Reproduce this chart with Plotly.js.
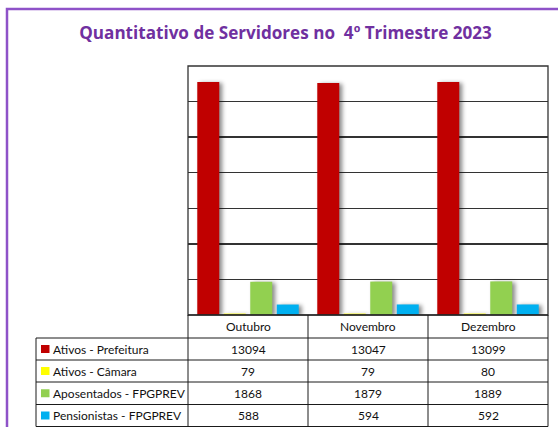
<!DOCTYPE html>
<html>
<head>
<meta charset="utf-8">
<script src="https://cdn.plot.ly/plotly-3.0.1.min.js"></script>
<style>
html,body{margin:0;padding:0;background:#fff;}
#chart{width:558px;height:427px;}
.barlayer .point path{filter:drop-shadow(3px 1px 2px rgba(0,0,0,0.45));}
</style>
</head>
<body>
<div id="chart"></div>
<script>
var months = ["Outubro", "Novembro", "Dezembro"];
var seriesNames = ["Ativos - Prefeitura", "Ativos - Câmara", "Aposentados - FPGPREV", "Pensionistas - FPGPREV"];
var ativosPrefeitura = [13094, 13047, 13099];
var ativosCamara = [79, 79, 80];
var aposentados = [1868, 1879, 1889];
var pensionistas = [588, 594, 592];
var seriesColors = ["#C00000", "#FFFF00", "#92D050", "#00B0F0"];
var titleText = "Quantitativo de Servidores no  4º Trimestre 2023";

var seriesValues = [ativosPrefeitura, ativosCamara, aposentados, pensionistas];

var W = 558, H = 427;
var L = 188, R = 548, T = 66, B = 315;
function px(x){ return (x - L) / (R - L); }
function py(y){ return (B - y) / (B - T); }

var font = "Lato, 'Open Sans', sans-serif";
var titleFont = "'Open Sans', Lato, sans-serif";
var traces = seriesValues.map(function(v, i){
  return {type:"bar", x:months, y:v, name:seriesNames[i],
    marker:{color:seriesColors[i], line:{width:0}}, hoverinfo:"skip"};
});

var shapes = [];
var annotations = [];
var lineCol = "#1a1a1a";
function hline(x0,x1,y,c,w){ shapes.push({type:"line",xref:"paper",yref:"paper",x0:px(x0),x1:px(x1),y0:py(y),y1:py(y),line:{color:c||lineCol,width:w||1}}); }
function vline(x,y0,y1,c,w){ shapes.push({type:"line",xref:"paper",yref:"paper",x0:px(x),x1:px(x),y0:py(y0),y1:py(y1),line:{color:c||lineCol,width:w||1}}); }

// outer purple frame
shapes.push({type:"rect",xref:"paper",yref:"paper",x0:px(7),x1:px(600),y0:py(9),y1:py(480),line:{color:"#8E52C8",width:2.5}});
// plot border
shapes.push({type:"rect",xref:"paper",yref:"paper",x0:0,x1:1,y0:0,y1:1,line:{color:"#333",width:1.3},layer:"above"});

// data table
var colX = [L, L + (R-L)/3, L + 2*(R-L)/3, R];
var labX0 = 36;
var rowY = [315, 338, 360, 382, 404.5, 426.5];
hline(L, R, rowY[0]);
hline(labX0, R, rowY[1]);
for (var r = 2; r < rowY.length; r++) hline(labX0, R, rowY[r]);
vline(labX0, rowY[1], rowY[5]);
colX.forEach(function(x){ vline(x, rowY[0], rowY[5]); });

var fs = 12;
months.forEach(function(m, j){
  var cx = (colX[j] + colX[j+1]) / 2;
  annotations.push({xref:"paper",yref:"paper",x:px(cx),y:py((rowY[0]+rowY[1])/2),text:m,showarrow:false,
    xanchor:"center",yanchor:"middle",font:{family:font,size:fs,color:"#111"}});
});
seriesNames.forEach(function(n, i){
  var yc = (rowY[i+1] + rowY[i+2]) / 2;
  shapes.push({type:"rect",xref:"paper",yref:"paper",x0:px(41),x1:px(49.5),y0:py(yc-4),y1:py(yc+4),
    fillcolor:seriesColors[i],line:{width:0}});
  annotations.push({xref:"paper",yref:"paper",x:px(51),y:py(yc),text:n,showarrow:false,
    xanchor:"left",yanchor:"middle",font:{family:font,size:fs,color:"#111"}});
  seriesValues[i].forEach(function(v, j){
    var cx = (colX[j] + colX[j+1]) / 2;
    annotations.push({xref:"paper",yref:"paper",x:px(cx),y:py(yc),text:String(v),showarrow:false,
      xanchor:"center",yanchor:"middle",font:{family:font,size:fs,color:"#111"}});
  });
});

var layout = {
  width:W, height:H,
  margin:{l:L, r:W-R, t:T, b:H-B, pad:0},
  paper_bgcolor:"#fff", plot_bgcolor:"#fff",
  title:{text:"<b>"+titleText+"</b>", x:285.5/W, xanchor:"center", y:1-33/H, yanchor:"middle",
    font:{family:titleFont,size:17.1,color:"#7030A0"}},
  showlegend:false,
  barmode:"group", bargap:0.117, bargroupgap:0.17,
  xaxis:{showticklabels:false, showgrid:false, zeroline:false, showline:false, ticks:""},
  yaxis:{range:[0,14000], dtick:2000, showticklabels:false, showgrid:true, gridcolor:"#333", gridwidth:1.4,
    zeroline:false, showline:false, ticks:""},
  shapes:shapes, annotations:annotations
};
Plotly.newPlot("chart", traces, layout, {staticPlot:true, displayModeBar:false});
</script>
</body>
</html>
